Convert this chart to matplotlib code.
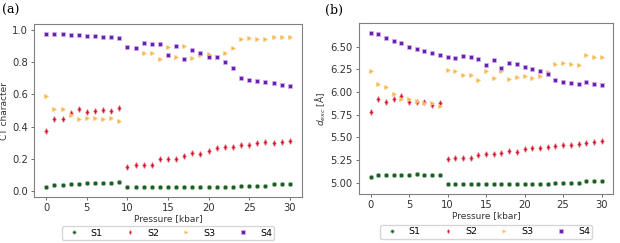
import numpy as np
import matplotlib.pyplot as plt

pressure = np.arange(0, 31)

# panel (a): CT character
ct_s1 = [0.027, 0.035, 0.039, 0.043, 0.046, 0.050, 0.050, 0.050, 0.050, 0.054,
         0.024, 0.023, 0.024, 0.023, 0.024, 0.024, 0.024, 0.024, 0.025, 0.025,
         0.025, 0.026, 0.027, 0.027, 0.029, 0.029, 0.029, 0.030, 0.041, 0.041,
         0.041]
ct_s2 = [0.375, 0.449, 0.449, 0.484, 0.509, 0.493, 0.499, 0.503, 0.497, 0.516,
         0.149, 0.161, 0.161, 0.161, 0.197, 0.199, 0.201, 0.217, 0.234, 0.230,
         0.251, 0.265, 0.271, 0.275, 0.284, 0.288, 0.296, 0.304, 0.296, 0.306,
         0.313]
ct_s3 = [0.592, 0.509, 0.509, 0.474, 0.445, 0.455, 0.451, 0.445, 0.455, 0.433,
         0.892, 0.888, 0.855, 0.859, 0.820, 0.894, 0.830, 0.901, 0.826, 0.841,
         0.851, 0.830, 0.855, 0.890, 0.942, 0.950, 0.944, 0.942, 0.957, 0.957,
         0.957]
ct_s4 = [0.975, 0.975, 0.971, 0.967, 0.967, 0.961, 0.959, 0.957, 0.954, 0.952,
         0.894, 0.890, 0.921, 0.915, 0.915, 0.841, 0.899, 0.816, 0.874, 0.859,
         0.830, 0.830, 0.803, 0.762, 0.702, 0.689, 0.681, 0.677, 0.673, 0.660,
         0.652]

# panel (b): d_exc
d_s1 = [5.065, 5.087, 5.087, 5.088, 5.088, 5.088, 5.089, 5.087, 5.084, 5.087,
        4.982, 4.982, 4.981, 4.981, 4.981, 4.982, 4.981, 4.982, 4.980, 4.981,
        4.982, 4.981, 4.982, 4.984, 4.993, 4.993, 4.992, 4.993, 5.022, 5.021,
        5.022]
d_s2 = [5.784, 5.922, 5.885, 5.922, 5.950, 5.893, 5.885, 5.893, 5.853, 5.882,
        5.260, 5.271, 5.267, 5.267, 5.307, 5.311, 5.314, 5.325, 5.343, 5.340,
        5.365, 5.376, 5.383, 5.390, 5.408, 5.416, 5.419, 5.423, 5.441, 5.452,
        5.455]
d_s3 = [6.229, 6.091, 6.055, 5.976, 5.918, 5.918, 5.900, 5.882, 5.875, 5.842,
        6.240, 6.229, 6.185, 6.189, 6.131, 6.232, 6.153, 6.232, 6.138, 6.164,
        6.178, 6.153, 6.178, 6.225, 6.312, 6.319, 6.308, 6.301, 6.409, 6.384,
        6.381]
d_s4 = [6.652, 6.644, 6.597, 6.565, 6.540, 6.493, 6.471, 6.453, 6.431, 6.413,
        6.381, 6.370, 6.395, 6.384, 6.366, 6.297, 6.355, 6.261, 6.319, 6.305,
        6.276, 6.258, 6.232, 6.193, 6.128, 6.113, 6.099, 6.091, 6.110, 6.088,
        6.077]

labels = ['S1', 'S2', 'S3', 'S4']
colors = ['#1d5a25', '#d0142c', '#f5b03e', '#6a1fb0']
edge = ['#9dbfa2', '#f3a6b0', '#fbd9a0', '#d0b2ec']
markers = ['o', 'd', '>', 's']

plt.rcParams['font.size'] = 6.5
plt.rcParams['mathtext.fontset'] = 'dejavusans'

fig = plt.figure(figsize=(6.2, 2.43), dpi=100)
ax1 = fig.add_axes([0.055, 0.189, 0.432, 0.712])
ax2 = fig.add_axes([0.579, 0.202, 0.410, 0.702])


def draw(ax, series, err):
    handles = []
    for y, lab, c, ec, m in zip(series, labels, colors, edge, markers):
        h = ax.errorbar(pressure, y, yerr=err, fmt=m, color=c, ecolor=ec,
                        elinewidth=1.0, markersize=3.2, markeredgecolor=ec,
                        markeredgewidth=0.5, label=lab)
        handles.append(h[0])
    for s in ax.spines.values():
        s.set_color('#808080')
    ax.tick_params(colors='#333333', length=2.5, width=0.6, color='#555555',
                   labelsize=7.2, pad=2)
    ax.set_xlabel('Pressure [kbar]', labelpad=0.5, color='#333333')
    ax.set_xticks([0, 5, 10, 15, 20, 25, 30])
    return handles


def add_legend(ax, handles, y):
    ax.legend(handles, labels, loc='upper center', bbox_to_anchor=(0.5, y),
              ncol=4, columnspacing=1.9, handletextpad=0.8, borderpad=0.25,
              borderaxespad=0, markerscale=0.75, fontsize=6.8,
              edgecolor='#cccccc', fancybox=True)


h1 = draw(ax1, [ct_s1, ct_s2, ct_s3, ct_s4], 0.012)
ax1.set_ylabel('CT character', color='#333333', labelpad=2)
ax1.set_yticks([0.0, 0.2, 0.4, 0.6, 0.8, 1.0])
add_legend(ax1, h1, -0.168)

h2 = draw(ax2, [d_s1, d_s2, d_s3, d_s4], 0.02)
ax2.set_ylabel(r'$d_{exc}$ [Å]', color='#333333', labelpad=2)
ax2.set_yticks([5.0, 5.25, 5.5, 5.75, 6.0, 6.25, 6.5])
ax2.set_yticklabels(['5.00', '5.25', '5.50', '5.75', '6.00', '6.25', '6.50'])
add_legend(ax2, h2, -0.182)

fig.text(0.003, 0.985, '(a)', family='DejaVu Serif', fontsize=9, va='top')
fig.text(0.525, 0.985, '(b)', family='DejaVu Serif', fontsize=9, va='top')

fig.savefig('out.png', dpi=100)
